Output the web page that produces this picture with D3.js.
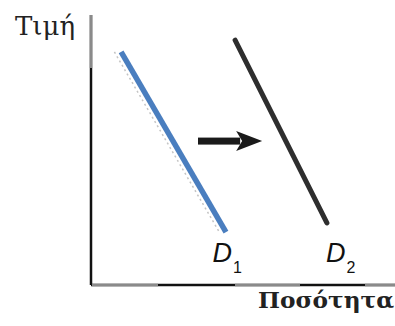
<!DOCTYPE html>
<html lang="el">
<head>
  <meta charset="utf-8">
  <title>Μετατόπιση ζήτησης</title>
  <style>
  html, body {padding: 0; margin: 0; overflow: hidden; background: #fff}
  </style>
</head>
<body>
  <svg></svg>
  <script src="https://d3js.org/d3.v7.min.js"></script>
  <script>

  // curves in chart units (x = quantity, y = price)
  var demand1 = [{x: 0.99, y: 8.63}, {x: 4.44, y: 1.96}];
  var demand2 = [{x: 4.74, y: 9.07}, {x: 7.76, y: 2.30}];
  var shift = [{x: 3.52, y: 5.33}, {x: 5.63, y: 5.33}];
  var curveLabels = [{name: "D", sub: "1", x: 4.0, y: 0.85}, {name: "D", sub: "2", x: 7.73, y: 0.85}];
  var axisTitles = {x: "Ποσότητα", y: "Τιμή"};

  var width = 395, height = 326;
  var svg = d3.select("svg").attr("width", width).attr("height", height);

  var x = d3.scaleLinear().domain([0, 10]).range([91, 395]),
      y = d3.scaleLinear().domain([0, 10]).range([285, 15]);

  // axes (scanned look: partly grey)
  var g = svg.append("g");
  g.append("line").attr("x1", x(0)).attr("x2", x(0)).attr("y1", y(10)).attr("y2", y(0))
    .attr("stroke", "#111").attr("stroke-width", 2.5);
  g.append("line").attr("x1", x(0)).attr("x2", x(0)).attr("y1", y(10)).attr("y2", 68)
    .attr("stroke", "#8a8a8a").attr("stroke-width", 2.5);
  g.append("line").attr("x1", x(0)).attr("x2", x(10)).attr("y1", y(0)).attr("y2", y(0))
    .attr("stroke", "#111").attr("stroke-width", 2.5);
  [[92, 158], [235, 300], [365, 395]].forEach(function(s) {
    g.append("line").attr("x1", s[0]).attr("x2", s[1]).attr("y1", y(0)).attr("y2", y(0))
      .attr("stroke", "#8a8a8a").attr("stroke-width", 2.5);
  });

  var line = d3.line().x(function(d) { return x(d.x); }).y(function(d) { return y(d.y); });

  // faint shadow of the original scan next to D1
  svg.append("path").datum(demand1.map(function(d) { return {x: d.x - 0.22, y: d.y}; }))
    .attr("d", line).attr("fill", "none")
    .attr("stroke", "#c4c4c4").attr("stroke-width", 1.5).attr("stroke-dasharray", "2,3");

  svg.append("path").datum(demand1).attr("d", line)
    .attr("fill", "none").attr("stroke", "#4a7ebf").attr("stroke-width", 5.5);

  svg.append("path").datum(demand2).attr("d", line)
    .attr("fill", "none").attr("stroke", "#2e2e2e").attr("stroke-width", 5)
    .attr("stroke-linecap", "round");

  // shift arrow
  var ax0 = x(shift[0].x), ax1 = x(shift[1].x), ay = y(shift[0].y);
  svg.append("rect").attr("x", ax0).attr("y", ay - 3.5).attr("width", ax1 - ax0 - 22).attr("height", 7)
    .attr("fill", "#1a1a1a");
  svg.append("path")
    .attr("d", "M" + (ax1 - 26) + "," + (ay - 10) + "L" + ax1 + "," + ay + "L" + (ax1 - 26) + "," + (ay + 10) + "L" + (ax1 - 20) + "," + ay + "Z")
    .attr("fill", "#1a1a1a");

  // curve labels
  curveLabels.forEach(function(d) {
    var t = svg.append("text").attr("x", x(d.x)).attr("y", y(d.y))
      .attr("font-family", "Liberation Sans, Arial, sans-serif").attr("font-style", "italic")
      .attr("font-size", 27).attr("fill", "#111").text(d.name);
    t.append("tspan").attr("dy", 11).attr("dx", 1).attr("font-size", 16).attr("font-style", "normal")
      .text(d.sub);
  });

  // axis titles
  svg.append("text").attr("x", 258).attr("y", 308)
    .attr("font-family", "DejaVu Serif, serif").attr("font-weight", "bold").attr("font-size", 23)
    .attr("fill", "#222").attr("textLength", 136).attr("lengthAdjust", "spacingAndGlyphs")
    .text(axisTitles.x);
  svg.append("text").attr("x", 15).attr("y", 35)
    .attr("font-family", "DejaVu Serif, serif").attr("font-size", 26)
    .attr("fill", "#222").attr("textLength", 60).attr("lengthAdjust", "spacingAndGlyphs")
    .text(axisTitles.y);

  </script>
</body>
</html>
